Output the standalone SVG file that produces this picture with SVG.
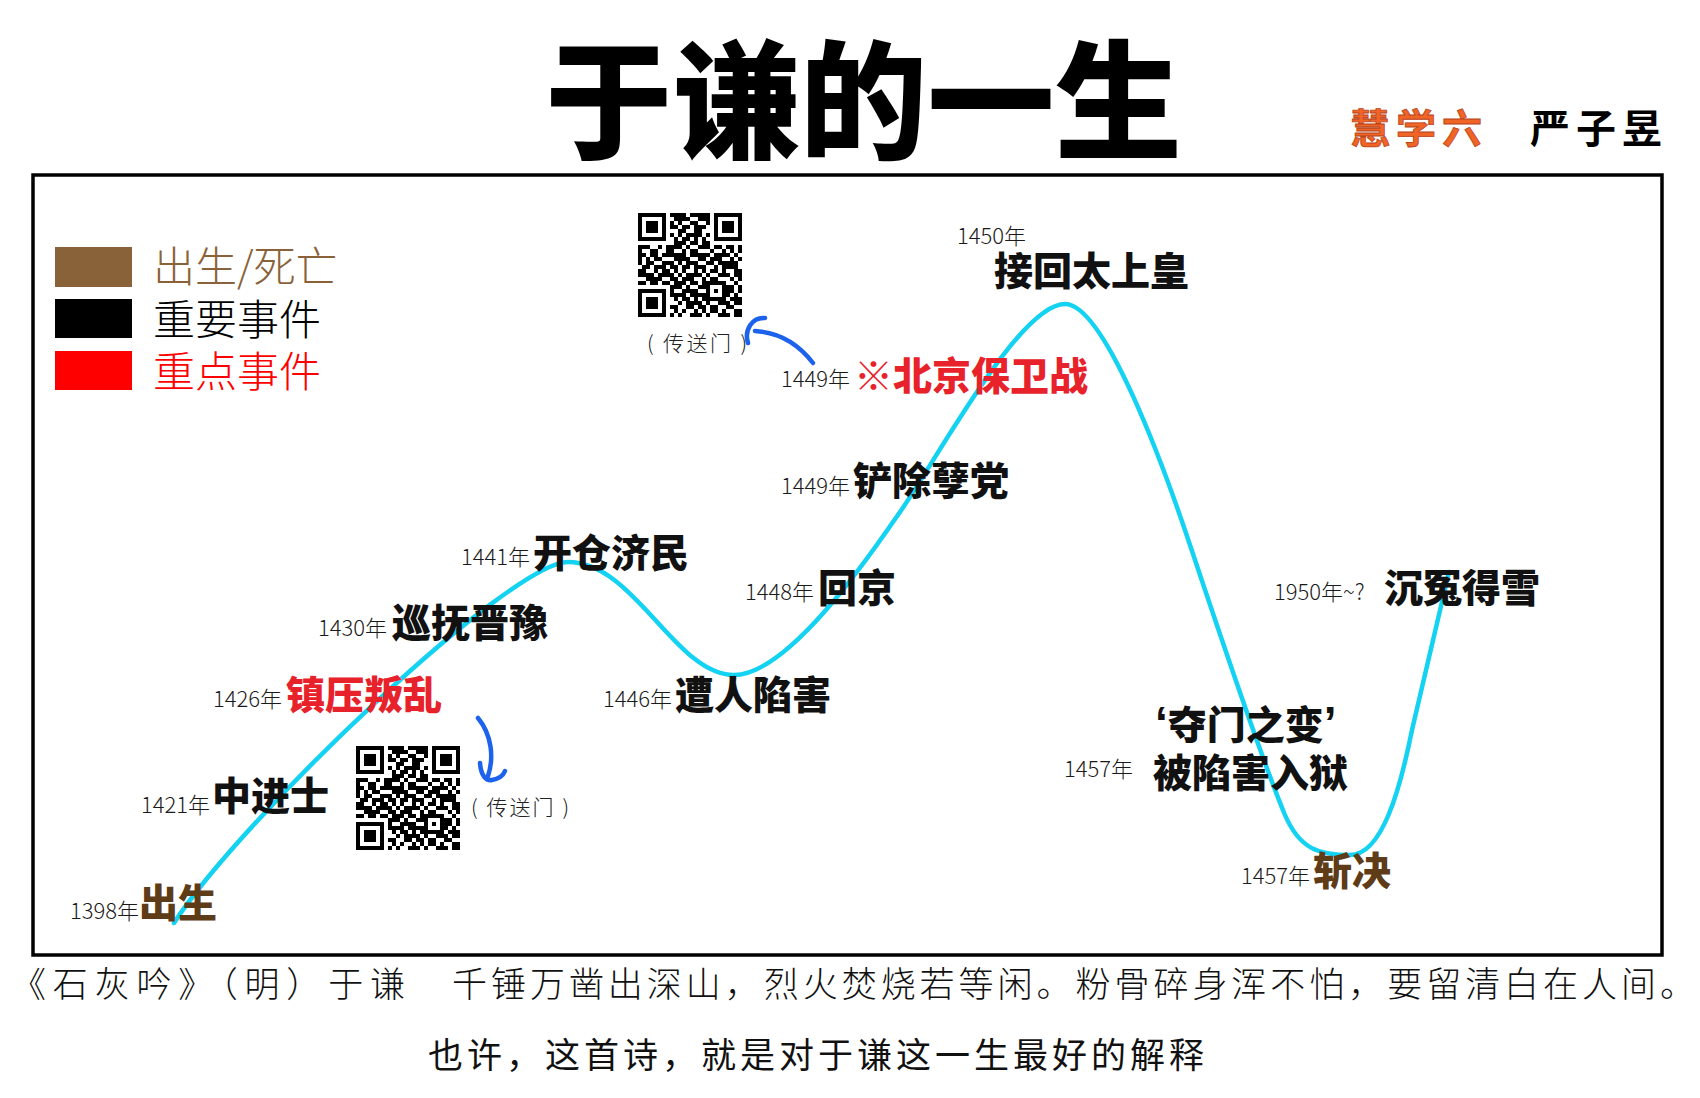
<svg xmlns="http://www.w3.org/2000/svg" width="1700" height="1098" viewBox="0 0 1700 1098">
<style>
.yr{font-family:"Noto Sans CJK SC","Noto Sans",sans-serif;font-size:22px;font-weight:300;fill:#1a1a1a}
.ev{font-family:"Noto Sans CJK SC","Noto Sans",sans-serif;font-size:39px;font-weight:900;fill:#111}
.red{fill:#e8222b}
.brn{fill:#5e3c17}
.leg{font-family:"Noto Sans CJK SC",sans-serif;font-size:42px;font-weight:300}
.tp{font-family:"Noto Sans CJK SC",sans-serif;font-size:21px;font-weight:300;fill:#222}
.curve{fill:none;stroke:#14d2f2;stroke-width:4.5;stroke-linecap:round}
.arrow{fill:none;stroke:#1c62ec;stroke-width:4.5;stroke-linecap:round}
.poem{font-family:"Noto Sans CJK SC",sans-serif;font-size:35px;font-weight:300;fill:#111}
</style>
<defs>
<pattern id="qrA" width="28" height="20" patternUnits="userSpaceOnUse">
<path d="M0 0h8v4h-8zM12 0h4v4h-4zM24 0h4v4h-4zM8 4h4v4h-4zM16 4h8v4h-8zM0 8h4v4h-4zM12 8h4v4h-4zM24 8h4v4h-4zM4 12h8v4h-8zM20 12h4v4h-4zM0 16h4v4h-4zM16 16h4v4h-4z" fill="#000"/>
</pattern>
<pattern id="qrB" width="20" height="28" patternUnits="userSpaceOnUse">
<path d="M4 0h4v4h-4zM16 0h4v4h-4zM0 4h4v4h-4zM8 4h4v4h-4zM12 8h4v4h-4zM4 12h4v4h-4zM16 12h4v4h-4zM0 16h4v4h-4zM8 20h8v4h-8zM4 24h4v4h-4zM16 24h4v4h-4z" fill="#000"/>
</pattern>
<g id="finder">
<rect x="-4" y="-4" width="36" height="36" fill="#fff"/>
<rect x="0" y="0" width="28" height="28" fill="#000"/>
<rect x="4" y="4" width="20" height="20" fill="#fff"/>
<rect x="8" y="8" width="12" height="12" fill="#000"/>
</g>
<g id="qr">
<rect x="0" y="0" width="104" height="104" fill="#fff"/>
<rect x="0" y="0" width="104" height="104" fill="url(#qrA)"/>
<rect x="0" y="0" width="104" height="104" fill="url(#qrB)"/>
<use href="#finder" x="0" y="0"/>
<use href="#finder" x="76" y="0"/>
<use href="#finder" x="0" y="76"/>
<rect x="68" y="68" width="20" height="20" fill="#000"/>
<rect x="72" y="72" width="12" height="12" fill="#fff"/>
<rect x="76" y="76" width="4" height="4" fill="#000"/>
</g>
</defs>

<rect width="1700" height="1098" fill="#fff"/>

<g id="title">
<text x="545" y="149" textLength="637" lengthAdjust="spacingAndGlyphs" font-family="'Noto Sans CJK SC',sans-serif" font-weight="900" font-size="128" fill="#000">于谦的一生</text>
<text x="1350" y="143" font-family="'Noto Sans CJK SC',sans-serif" font-weight="700" font-size="40" letter-spacing="6" fill="#f06426" stroke="#b9431a" stroke-width="0.8">慧学六</text>
<text x="1530" y="143" font-family="'Noto Sans CJK SC',sans-serif" font-weight="700" font-size="40" letter-spacing="6" fill="#000">严子昱</text>
</g>

<g id="frame">
<rect x="33" y="175" width="1629" height="780" fill="none" stroke="#000" stroke-width="3.5"/>
</g>

<g id="legend">
<rect x="55" y="247" width="77" height="40" fill="#8a6239"/>
<rect x="55" y="299" width="77" height="39" fill="#000"/>
<rect x="55" y="351" width="77" height="39" fill="#ff0000"/>
<text class="leg" x="153" y="282" fill="#8a6239">出生/死亡</text>
<text class="leg" x="153" y="335" fill="#000">重要事件</text>
<text class="leg" x="153" y="387" fill="#ff0000">重点事件</text>
</g>

<g id="qr-top">
<use href="#qr" x="638" y="213"/>
<text class="tp" x="647" y="351" textLength="100" lengthAdjust="spacing">( 传送门 )</text>
</g>
<g id="qr-bottom">
<use href="#qr" x="356" y="746"/>
<text class="tp" x="471" y="815" textLength="98" lengthAdjust="spacing">( 传送门 )</text>
</g>

<g id="connectors">
<path class="curve" d="M174,923 C240,820 510,562 568,562 C635,562 675,675 734,675 C790,675 875,548 900,512 C940,454 1020,304 1065,304 C1105,304 1165,470 1190,545 C1225,650 1262,760 1285,815 C1300,850 1320,855 1350,855 C1382,855 1400,790 1412,730 L1449,572"/>
<path class="arrow" d="M813,363 Q790,333 755,331"/>
<path class="arrow" d="M765,318 C752,317 744,330 748,343"/>
<path class="arrow" d="M478,718 C492,735 494,758 488,776"/>
<path class="arrow" d="M480,763 C481,776 486,781 492,780 C498,779 503,776 505,771"/>
</g>

<g id="n1398"><text class="yr" x="70" y="919">1398年</text><text class="ev brn" x="139" y="917">出生</text></g>
<g id="n1421"><text class="yr" x="141" y="813">1421年</text><text class="ev" x="212" y="810">中进士</text></g>
<g id="n1426"><text class="yr" x="213" y="707">1426年</text><text class="ev red" x="286" y="709">镇压叛乱</text></g>
<g id="n1430"><text class="yr" x="318" y="636">1430年</text><text class="ev" x="392" y="637">巡抚晋豫</text></g>
<g id="n1441"><text class="yr" x="461" y="565">1441年</text><text class="ev" x="533" y="567">开仓济民</text></g>
<g id="n1446"><text class="yr" x="603" y="707">1446年</text><text class="ev" x="675" y="709">遭人陷害</text></g>
<g id="n1448"><text class="yr" x="745" y="600">1448年</text><text class="ev" x="818" y="602">回京</text></g>
<g id="n1449a"><text class="yr" x="781" y="494">1449年</text><text class="ev" x="853" y="495">铲除孽党</text></g>
<g id="n1449b"><text class="yr" x="781" y="387">1449年</text><text class="ev red" x="854" y="390"><tspan font-weight="400">※</tspan>北京保卫战</text></g>
<g id="n1450"><text class="yr" x="957" y="244">1450年</text><text class="ev" x="994" y="285">接回太上皇</text></g>
<g id="n1950"><text class="yr" x="1274" y="600">1950年~?</text><text class="ev" x="1384" y="602">沉冤得雪</text></g>
<g id="n1457a"><text class="ev" x="1155" y="739"><tspan font-family="'Liberation Sans',sans-serif" font-size="46">‘</tspan>夺门之变<tspan font-family="'Liberation Sans',sans-serif" font-size="46">’</tspan></text><text class="yr" x="1064" y="777">1457年</text><text class="ev" x="1153" y="787">被陷害入狱</text></g>
<g id="n1457b"><text class="yr" x="1241" y="884">1457年</text><text class="ev brn" x="1313" y="885">斩决</text></g>

<g id="footer">
<text class="poem" x="11" y="997" textLength="394" lengthAdjust="spacing">《石灰吟》（明）于谦</text>
<text class="poem" x="452" y="997" textLength="1243" lengthAdjust="spacing">千锤万凿出深山，烈火焚烧若等闲。粉骨碎身浑不怕，要留清白在人间。</text>
<text x="428" y="1068" textLength="776" lengthAdjust="spacing" font-family="'Noto Sans CJK SC',sans-serif" font-size="35" font-weight="400" fill="#111">也许，这首诗，就是对于谦这一生最好的解释</text>
</g>
</svg>
